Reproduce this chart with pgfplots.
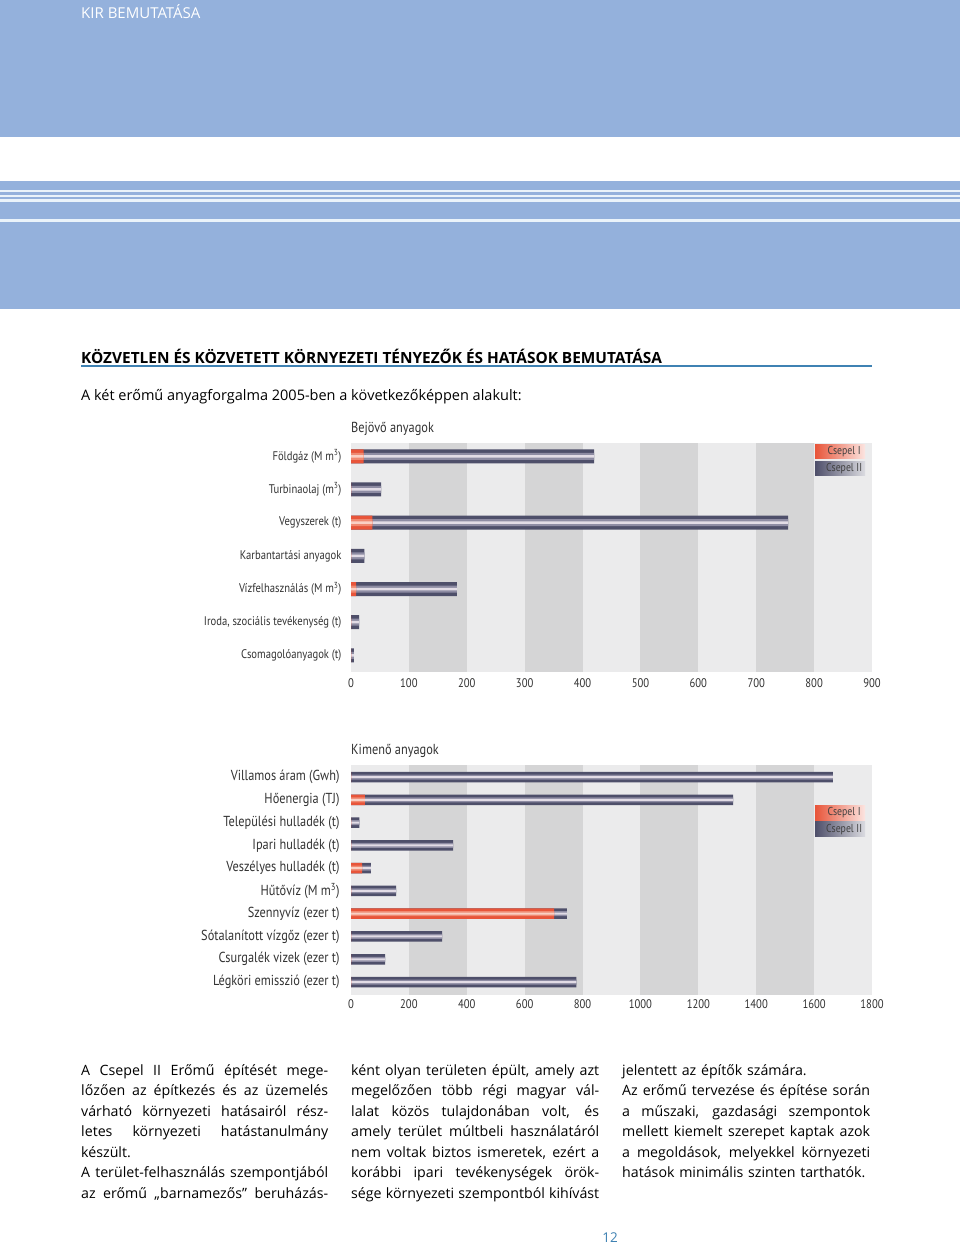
\documentclass[border=0pt]{standalone}
\usepackage{pgfplots}
\pgfplotsset{compat=1.18}
\usepackage{fontspec}
\setmainfont{Open Sans}
\newfontfamily\cond[FakeStretch=0.85]{PT Sans}
\definecolor{pageblue}{HTML}{94B1DC}
\definecolor{lineblue}{HTML}{EAF3FA}
\definecolor{headblue}{HTML}{3F82B3}
\definecolor{bglight}{HTML}{EBEBEC}
\definecolor{bgdark}{HTML}{D5D5D6}
\definecolor{slate}{HTML}{4E4F6A}
\definecolor{slatem}{HTML}{8E8CA3}
\definecolor{slatel}{HTML}{E2DCE6}
\definecolor{redd}{HTML}{E8553A}
\definecolor{redm}{HTML}{EF8A72}
\definecolor{redl}{HTML}{FAD0C4}
\definecolor{labgray}{HTML}{333333}
\newcommand\J[2]{\leavevmode\hbox to #1{\spaceskip=\fontdimen2\font plus 1fil minus 0.12em\relax #2}}

% y: category, tot: Csepel I + Csepel II, c1: Csepel I
\pgfplotstableread{
y c1 tot
0 22 420
1 0 52
2 37 755
3 0 23
4 9 183
5 0 14
6 0 5
}\inTable
\pgfplotstableread{
y c1 tot
0 0 1665
1 48 1320
2 0 29
3 0 353
4 38 69
5 0 156
6 702 746
7 0 315
8 0 118
9 0 779
}\outTable

\pgfplotsset{
  pagechart/.style={
    scale only axis, y dir=reverse,
    axis line style={draw=none}, major tick length=0pt,
    tick label style={font=\cond\fontsize{12.5}{14}\selectfont, text=labgray},
    /pgf/number format/assume math mode=true,
    /pgf/number format/1000 sep={},
    clip=false,
  },
  barA/.style={xbar, bar shift=0pt, draw=none, bar width=#1},
}

\begin{document}
\begin{tikzpicture}
\useasboundingbox (0pt,0pt) rectangle (960pt,-1246pt);
\fill[white] (0pt,0pt) rectangle (960pt,-1246pt);
% header bands
\fill[pageblue] (0pt,0pt) rectangle (960pt,-137pt);
\node[anchor=west, text=white, font=\fontsize{15}{17}\selectfont, inner sep=0pt] at (81pt,-12pt) {KIR BEMUTATÁSA};
\fill[pageblue] (0pt,-181pt) rectangle (960pt,-309pt);
\fill[lineblue] (0pt,-190pt) rectangle (960pt,-191.8pt);
\fill[lineblue] (0pt,-195pt) rectangle (960pt,-197pt);
\fill[lineblue] (0pt,-199.3pt) rectangle (960pt,-201.7pt);
\fill[lineblue] (0pt,-219.3pt) rectangle (960pt,-221.7pt);
% heading
\node[anchor=west, font=\bfseries\fontsize{15.4}{17}\selectfont, inner sep=0pt] at (81pt,-356pt) {KÖZVETLEN ÉS KÖZVETETT KÖRNYEZETI TÉNYEZŐK ÉS HATÁSOK BEMUTATÁSA};
\draw[headblue, line width=2pt] (81pt,-365.5pt) -- (872pt,-365.5pt);
\node[anchor=west, font=\fontsize{14.5}{17}\selectfont, inner sep=0pt] at (81pt,-397pt) {A két erőmű anyagforgalma 2005-ben a következőképpen alakult:};

% chart titles
\node[anchor=west, font=\cond\fontsize{14.5}{16}\selectfont, text=labgray, inner sep=0pt] at (351pt,-429pt) {Bejövő anyagok};
\node[anchor=west, font=\cond\fontsize{14.5}{16}\selectfont, text=labgray, inner sep=0pt] at (351pt,-751pt) {Kimenő anyagok};

% chart 1 background
\begin{axis}[at={(351pt,-672pt)}, anchor=south west, scale only axis, hide axis,
  width=521pt, height=229pt, xmin=0, xmax=900, ymin=-0.4, ymax=6.5, y dir=reverse]
\addplot[draw=none] coordinates {(0,0)};
\fill[bglight] (axis cs:0,-0.4) rectangle (axis cs:900,6.5);
\fill[bgdark] (axis cs:100,-0.4) rectangle (axis cs:200,6.5);
\fill[bgdark] (axis cs:300,-0.4) rectangle (axis cs:400,6.5);
\fill[bgdark] (axis cs:500,-0.4) rectangle (axis cs:600,6.5);
\fill[bgdark] (axis cs:700,-0.4) rectangle (axis cs:800,6.5);
\end{axis}
% chart 1
\begin{axis}[pagechart, at={(351pt,-672pt)}, anchor=south west,
  width=521pt, height=229pt, xmin=0, xmax=900, ymin=-0.4, ymax=6.5,
  xtick={0,100,...,900}, ytick={0,...,6},
  yticklabels={Földgáz (M m\textsuperscript{3}), Turbinaolaj (m\textsuperscript{3}), Vegyszerek (t), Karbantartási anyagok, Vízfelhasználás (M m\textsuperscript{3}), {Iroda, szociális tevékenység (t)}, Csomagolóanyagok (t)},
  yticklabel style={xshift=-6pt},
  xticklabel style={yshift=-3pt}]
\addplot[barA=14pt, fill=slate] table[x=tot, y=y] {\inTable};
\addplot[barA=7pt, fill=slatem] table[x=tot, y=y] {\inTable};
\addplot[barA=2.5pt, fill=slatel] table[x=tot, y=y] {\inTable};
\addplot[barA=14pt, fill=redd] table[x=c1, y=y] {\inTable};
\addplot[barA=7pt, fill=redm] table[x=c1, y=y] {\inTable};
\addplot[barA=2.5pt, fill=redl] table[x=c1, y=y] {\inTable};
\node[minimum width=50pt, minimum height=14pt, inner sep=0pt, left color=redd, right color=redd!15!white, font=\cond\fontsize{11.5}{12}\selectfont, text=black!75] at (axis cs:845,-0.15) {\hspace*{8pt}Csepel I};
\node[minimum width=50pt, minimum height=14pt, inner sep=0pt, left color=slate, right color=slate!20!white, font=\cond\fontsize{11.5}{12}\selectfont, text=black!75] at (axis cs:845,0.36) {\hspace*{8pt}Csepel II};
\end{axis}

% chart 2 background
\begin{axis}[at={(351pt,-995pt)}, anchor=south west, scale only axis, hide axis,
  width=521pt, height=230pt, xmin=0, xmax=1800, ymin=-0.53, ymax=9.57, y dir=reverse]
\addplot[draw=none] coordinates {(0,0)};
\fill[bglight] (axis cs:0,-0.53) rectangle (axis cs:1800,9.57);
\fill[bgdark] (axis cs:200,-0.53) rectangle (axis cs:400,9.57);
\fill[bgdark] (axis cs:600,-0.53) rectangle (axis cs:800,9.57);
\fill[bgdark] (axis cs:1000,-0.53) rectangle (axis cs:1200,9.57);
\fill[bgdark] (axis cs:1400,-0.53) rectangle (axis cs:1600,9.57);
\end{axis}
% chart 2
\begin{axis}[pagechart, at={(351pt,-995pt)}, anchor=south west,
  width=521pt, height=230pt, xmin=0, xmax=1800, ymin=-0.53, ymax=9.57,
  xtick={0,200,...,1800}, ytick={0,...,9},
  yticklabels={Villamos áram (Gwh), Hőenergia (TJ), Települési hulladék (t), Ipari hulladék (t), Veszélyes hulladék (t), Hűtővíz (M m\textsuperscript{3}), Szennyvíz (ezer t), Sótalanított vízgőz (ezer t), Csurgalék vizek (ezer t), Légköri emisszió (ezer t)},
  yticklabel style={xshift=-8pt, font=\cond\fontsize{14.5}{16}\selectfont},
  xticklabel style={yshift=-1pt}]
\addplot[barA=10.5pt, fill=slate] table[x=tot, y=y] {\outTable};
\addplot[barA=5pt, fill=slatem] table[x=tot, y=y] {\outTable};
\addplot[barA=2pt, fill=slatel] table[x=tot, y=y] {\outTable};
\addplot[barA=10.5pt, fill=redd] table[x=c1, y=y] {\outTable};
\addplot[barA=5pt, fill=redm] table[x=c1, y=y] {\outTable};
\addplot[barA=2pt, fill=redl] table[x=c1, y=y] {\outTable};
\node[minimum width=50pt, minimum height=15pt, inner sep=0pt, left color=redd, right color=redd!15!white, font=\cond\fontsize{11.5}{12}\selectfont, text=black!75] at (axis cs:1690,1.56) {\hspace*{8pt}Csepel I};
\node[minimum width=50pt, minimum height=15pt, inner sep=0pt, left color=slate, right color=slate!20!white, font=\cond\fontsize{11.5}{12}\selectfont, text=black!75] at (axis cs:1690,2.30) {\hspace*{8pt}Csepel II};
\end{axis}

% body text
\begin{scope}[every node/.style={anchor=north west, inner sep=0pt, align=left, font=\fontsize{14.2}{20.5}\selectfont}]
\node[text width=247pt] at (81pt,-1064pt) {%
\J{247pt}{A Csepel II Erőmű építését mege-}\\
\J{247pt}{lőzően az építkezés és az üzemelés}\\
\J{247pt}{várható környezeti hatásairól rész-}\\
\J{247pt}{letes környezeti hatástanulmány}\\
készült.\\
\J{247pt}{A terület-felhasználás szempontjából}\\
\J{247pt}{az erőmű „barnamezős” beruházás-}};
\node[text width=248pt] at (351pt,-1064pt) {%
\J{248pt}{ként olyan területen épült, amely azt}\\
\J{248pt}{megelőzően több régi magyar vál-}\\
\J{248pt}{lalat közös tulajdonában volt, és}\\
\J{248pt}{amely terület múltbeli használatáról}\\
\J{248pt}{nem voltak biztos ismeretek, ezért a}\\
\J{248pt}{korábbi ipari tevékenységek örök-}\\
\J{248pt}{sége környezeti szempontból kihívást}};
\node[text width=248pt] at (622pt,-1064pt) {%
jelentett az építők számára.\\
\J{248pt}{Az erőmű tervezése és építése során}\\
\J{248pt}{a műszaki, gazdasági szempontok}\\
\J{248pt}{mellett kiemelt szerepet kaptak azok}\\
\J{248pt}{a megoldások, melyekkel környezeti}\\
hatások minimális szinten tarthatók.};
\end{scope}
\node[font=\fontsize{13.5}{15}\selectfont, text=headblue, inner sep=0pt] at (610pt,-1238pt) {12};
\end{tikzpicture}
\end{document}
